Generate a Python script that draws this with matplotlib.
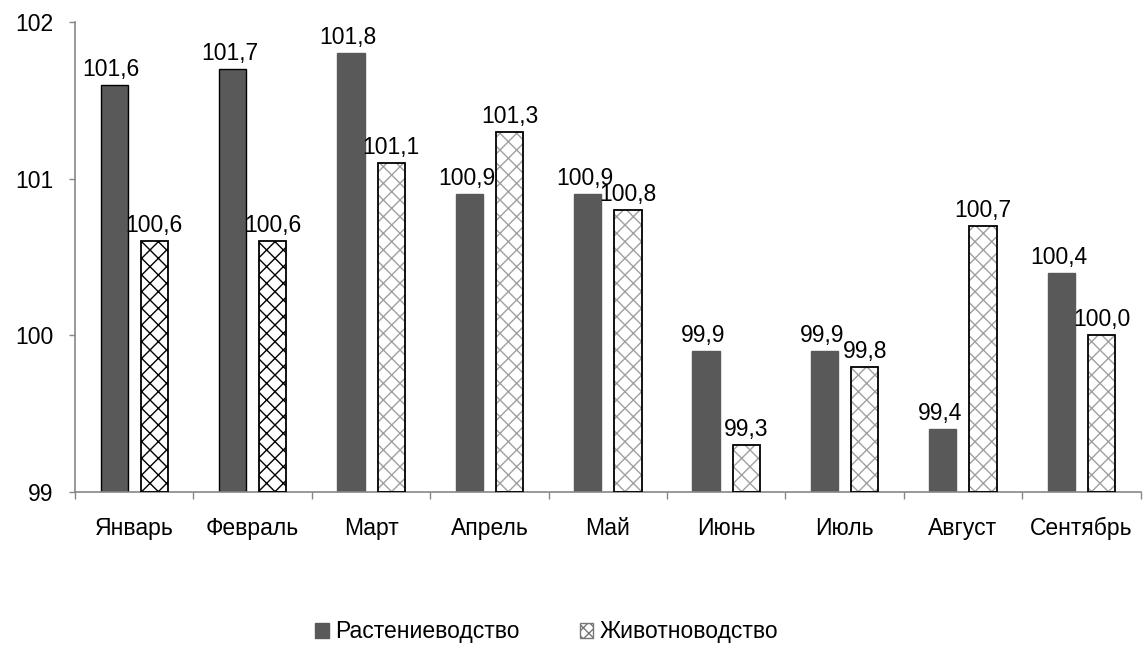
import matplotlib
matplotlib.use("Agg")
import matplotlib.pyplot as plt
import numpy as np
from matplotlib.patches import Patch

months = ["Январь", "Февраль", "Март", "Апрель", "Май", "Июнь", "Июль", "Август", "Сентябрь"]
crops = [101.6, 101.7, 101.8, 100.9, 100.9, 99.9, 99.9, 99.4, 100.4]
livestock = [100.6, 100.6, 101.1, 101.3, 100.8, 99.3, 99.8, 100.7, 100.0]
series_names = ["Растениеводство", "Животноводство"]
yticks = [99, 100, 101, 102]

plt.rcParams['font.family'] = ['Liberation Sans', 'DejaVu Sans']
plt.rcParams['hatch.linewidth'] = 1.0

FS = 16.5

fig = plt.figure(figsize=(11.44, 6.59), dpi=100)
ax = fig.add_axes([0.0656, 0.2534, 0.9314, 0.7132])

x = np.arange(len(months))
w = 0.23
off = 0.17
dark = "#595959"
black_edge = [True, True] + [False] * 7

for i in range(len(months)):
    ec = "black" if black_edge[i] else dark
    ax.bar(x[i] - off, crops[i] - 99, w, bottom=99, color=dark, edgecolor=ec, linewidth=1.0, zorder=2)
    hc = "black" if black_edge[i] else "#a0a0a0"
    ax.bar(x[i] + off, livestock[i] - 99, w, bottom=99, color="white", edgecolor=hc,
           hatch="xx", linewidth=0, zorder=2)
    ax.bar(x[i] + off, livestock[i] - 99, w, bottom=99, fill=False, edgecolor="black",
           linewidth=1.3, zorder=3)

def fmt(v):
    return f"{v:.1f}".replace(".", ",")

for i in range(len(months)):
    ax.annotate(fmt(crops[i]), (x[i] - off, crops[i]), xytext=(-2, 3), textcoords="offset points",
                ha="center", va="bottom", fontsize=FS)
    ax.annotate(fmt(livestock[i]), (x[i] + off, livestock[i]), xytext=(0, 3), textcoords="offset points",
                ha="center", va="bottom", fontsize=FS)

ax.set_xlim(-0.5, len(months) - 0.5)
ax.set_ylim(99, 102)
ax.set_yticks(yticks)
ax.set_yticklabels([str(t) for t in yticks], fontsize=FS)
ax.set_xticks(x)
ax.set_xticklabels(months, fontsize=FS)
ax.tick_params(axis='x', length=0, pad=18)
ax.set_xticks(np.arange(len(months) + 1) - 0.5, minor=True)
ax.tick_params(axis='x', which='minor', length=5, color="#868686", width=1)
ax.tick_params(axis='y', length=4.5, color="#868686", width=1, pad=11)
for s in ["top", "right"]:
    ax.spines[s].set_visible(False)
for s in ["left", "bottom"]:
    ax.spines[s].set_color("#868686")
    ax.spines[s].set_linewidth(1.2)

handles = [Patch(facecolor=dark, edgecolor=dark),
           Patch(facecolor="white", edgecolor="#777777", hatch="xxx")]
fig.legend(handles, series_names, loc="center", bbox_to_anchor=(0.478, 0.041), ncol=2,
           frameon=False, fontsize=FS, handlelength=0.6, handleheight=0.6,
           handletextpad=0.3, columnspacing=2.6)

fig.savefig("out.png", dpi=100)
